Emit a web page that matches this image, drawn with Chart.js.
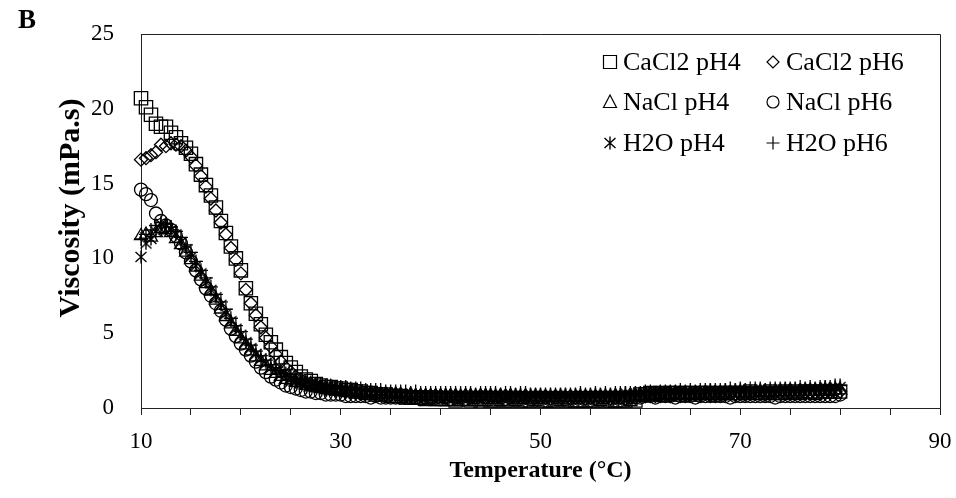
<!DOCTYPE html>
<html>
<head>
<meta charset="utf-8">
<script src="https://cdn.jsdelivr.net/npm/chart.js@4"></script>
<style>
  html, body { margin: 0; padding: 0; background: #fff; }
  #wrap { width: 956px; height: 498px; position: relative; }
</style>
</head>
<body>
<div id="wrap"><canvas id="chart" width="956" height="498"></canvas></div>
<script>
// Temperature (°C) for every reading
const temps = [
  10, 10.5, 11, 11.5, 12, 12.5, 13, 13.5, 14, 14.5,
  15, 15.5, 16, 16.5, 17, 17.5, 18, 18.5, 19, 19.5,
  20, 20.5, 21, 21.5, 22, 22.5, 23, 23.5, 24, 24.5,
  25, 25.5, 26, 26.5, 27, 27.5, 28, 28.5, 29, 29.5,
  30, 30.5, 31, 31.5, 32, 32.5, 33, 33.5, 34, 34.5,
  35, 35.5, 36, 36.5, 37, 37.5, 38, 38.5, 39, 39.5,
  40, 40.5, 41, 41.5, 42, 42.5, 43, 43.5, 44, 44.5,
  45, 45.5, 46, 46.5, 47, 47.5, 48, 48.5, 49, 49.5,
  50, 50.5, 51, 51.5, 52, 52.5, 53, 53.5, 54, 54.5,
  55, 55.5, 56, 56.5, 57, 57.5, 58, 58.5, 59, 59.5,
  60, 60.5, 61, 61.5, 62, 62.5, 63, 63.5, 64, 64.5,
  65, 65.5, 66, 66.5, 67, 67.5, 68, 68.5, 69, 69.5,
  70, 70.5, 71, 71.5, 72, 72.5, 73, 73.5, 74, 74.5,
  75, 75.5, 76, 76.5, 77, 77.5, 78, 78.5, 79, 79.5,
  80
];

// Viscosity (mPa.s)
const cacl2Ph4 = [
  20.7, 20.1, 19.6, 19.0, 18.8, 18.8, 18.4, 18.1, 17.7, 17.4,
  17.0, 16.3, 15.6, 14.9, 14.2, 13.4, 12.5, 11.7, 10.8, 10.0,
  9.2, 8.0, 7.0, 6.3, 5.6, 4.9, 4.4, 3.9, 3.4, 3.0,
  2.7, 2.4, 2.1, 1.9, 1.8, 1.6, 1.5, 1.4, 1.4, 1.3,
  1.3, 1.2, 1.2, 1.1, 1.1, 1.0, 1.0, 0.9, 0.9, 0.9,
  0.8, 0.8, 0.8, 0.7, 0.7, 0.7, 0.7, 0.6, 0.7, 0.6,
  0.6, 0.6, 0.6, 0.5, 0.6, 0.6, 0.5, 0.6, 0.5, 0.6,
  0.5, 0.5, 0.6, 0.5, 0.5, 0.6, 0.5, 0.5, 0.5, 0.6,
  0.5, 0.5, 0.5, 0.5, 0.6, 0.5, 0.5, 0.5, 0.5, 0.5,
  0.5, 0.5, 0.6, 0.5, 0.5, 0.5, 0.5, 0.5, 0.6, 0.5,
  0.9, 0.9, 1.0, 0.9, 1.0, 0.9, 1.0, 1.0, 0.9, 1.0,
  1.0, 0.9, 1.0, 1.0, 1.0, 0.9, 1.0, 1.0, 1.0, 1.0,
  1.0, 1.0, 1.1, 1.0, 1.0, 1.0, 1.1, 1.0, 1.0, 1.1,
  1.0, 1.1, 1.0, 1.1, 1.1, 1.0, 1.1, 1.1, 1.1, 1.1,
  1.1
];
const cacl2Ph6 = [
  16.6, 16.7, 16.9, 17.1, 17.6, 17.5, 17.7, 17.6, 17.5, 17.2,
  16.8, 16.2, 15.5, 14.8, 14.0, 13.2, 12.4, 11.6, 10.7, 9.9,
  9.0, 7.9, 7.0, 6.2, 5.4, 4.7, 4.1, 3.6, 3.1, 2.7,
  2.4, 2.1, 1.9, 1.7, 1.6, 1.5, 1.4, 1.3, 1.3, 1.2,
  1.2, 1.1, 1.1, 1.1, 1.0, 1.0, 1.0, 0.9, 0.9, 0.9,
  0.9, 0.9, 0.8, 0.8, 0.8, 0.8, 0.8, 0.8, 0.7, 0.8,
  0.8, 0.7, 0.8, 0.7, 0.7, 0.8, 0.7, 0.7, 0.8, 0.7,
  0.7, 0.7, 0.7, 0.8, 0.7, 0.7, 0.7, 0.7, 0.7, 0.7,
  0.7, 0.7, 0.6, 0.7, 0.7, 0.7, 0.6, 0.7, 0.7, 0.6,
  0.7, 0.6, 0.7, 0.7, 0.6, 0.7, 0.7, 0.6, 0.7, 0.7,
  0.8, 0.8, 0.9, 0.8, 0.9, 0.9, 0.8, 0.9, 0.9, 0.9,
  0.9, 0.9, 0.9, 1.0, 0.9, 0.9, 1.0, 0.9, 1.0, 0.9,
  1.0, 0.9, 1.0, 1.0, 1.0, 0.9, 1.0, 1.0, 1.0, 1.0,
  1.0, 1.0, 1.0, 1.1, 1.0, 1.0, 1.1, 1.0, 1.1, 1.1,
  1.1
];
const naclPh4 = [
  11.5, 11.6, 11.4, 11.7, 12.0, 11.9, 11.7, 11.3, 10.9, 10.4,
  9.9, 9.4, 8.8, 8.3, 7.8, 7.2, 6.6, 6.1, 5.6, 5.1,
  4.6, 4.2, 3.8, 3.4, 3.1, 2.8, 2.5, 2.3, 2.1, 1.9,
  1.8, 1.7, 1.6, 1.5, 1.4, 1.4, 1.3, 1.3, 1.2, 1.2,
  1.1, 1.1, 1.1, 1.0, 1.0, 1.0, 1.0, 0.9, 0.9, 0.9,
  0.9, 0.9, 0.9, 0.8, 0.9, 0.8, 0.8, 0.8, 0.8, 0.8,
  0.8, 0.8, 0.8, 0.8, 0.7, 0.8, 0.8, 0.7, 0.8, 0.8,
  0.8, 0.7, 0.8, 0.7, 0.8, 0.7, 0.7, 0.8, 0.7, 0.7,
  0.7, 0.7, 0.7, 0.7, 0.7, 0.7, 0.7, 0.7, 0.7, 0.7,
  0.7, 0.7, 0.7, 0.7, 0.7, 0.8, 0.7, 0.7, 0.8, 0.8,
  0.8, 0.8, 0.9, 0.8, 0.9, 0.9, 0.9, 0.9, 0.9, 0.9,
  0.9, 0.9, 1.0, 0.9, 1.0, 1.0, 0.9, 1.0, 1.0, 1.0,
  1.0, 1.0, 1.0, 1.0, 1.1, 1.0, 1.0, 1.1, 1.0, 1.1,
  1.1, 1.0, 1.1, 1.1, 1.1, 1.1, 1.1, 1.2, 1.1, 1.2,
  1.2
];
const naclPh6 = [
  14.6, 14.3, 13.9, 13.0, 12.5, 12.2, 11.9, 11.5, 11.0, 10.4,
  9.8, 9.2, 8.6, 8.0, 7.5, 7.0, 6.5, 5.9, 5.3, 4.8,
  4.3, 3.9, 3.5, 3.1, 2.7, 2.4, 2.1, 1.9, 1.7, 1.5,
  1.4, 1.3, 1.2, 1.1, 1.1, 1.0, 1.0, 0.9, 0.9, 0.9,
  0.9, 0.8, 0.8, 0.8, 0.8, 0.8, 0.7, 0.8, 0.7, 0.7,
  0.7, 0.7, 0.7, 0.7, 0.7, 0.7, 0.6, 0.7, 0.7, 0.7,
  0.7, 0.7, 0.6, 0.7, 0.7, 0.6, 0.7, 0.7, 0.7, 0.7,
  0.7, 0.7, 0.7, 0.6, 0.7, 0.7, 0.7, 0.7, 0.6, 0.7,
  0.7, 0.7, 0.7, 0.7, 0.7, 0.6, 0.7, 0.7, 0.7, 0.7,
  0.7, 0.7, 0.7, 0.7, 0.7, 0.7, 0.7, 0.7, 0.7, 0.7,
  0.7, 0.8, 0.8, 0.7, 0.8, 0.8, 0.8, 0.7, 0.8, 0.8,
  0.8, 0.7, 0.8, 0.8, 0.8, 0.8, 0.8, 0.8, 0.7, 0.8,
  0.8, 0.8, 0.8, 0.8, 0.8, 0.8, 0.8, 0.7, 0.8, 0.8,
  0.8, 0.8, 0.8, 0.8, 0.8, 0.8, 0.8, 0.8, 0.8, 0.8,
  0.9
];
const h2oPh4 = [
  10.1, 11.0, 11.3, 11.8, 12.3, 12.2, 11.9, 11.6, 11.1, 10.6,
  10.1, 9.5, 9.0, 8.4, 7.9, 7.4, 6.9, 6.3, 5.8, 5.3,
  4.9, 4.4, 4.0, 3.6, 3.3, 3.0, 2.7, 2.5, 2.3, 2.1,
  1.9, 1.8, 1.7, 1.6, 1.5, 1.4, 1.4, 1.3, 1.3, 1.2,
  1.2, 1.2, 1.1, 1.1, 1.1, 1.0, 1.0, 1.0, 1.0, 1.0,
  0.9, 1.0, 0.9, 0.9, 0.9, 0.9, 0.9, 0.9, 0.9, 0.9,
  0.9, 0.9, 0.9, 0.9, 0.9, 0.9, 0.9, 0.9, 0.9, 0.9,
  0.9, 0.9, 0.9, 0.8, 0.9, 0.9, 0.9, 0.8, 0.9, 0.9,
  0.9, 0.8, 0.9, 0.8, 0.9, 0.9, 0.8, 0.9, 0.9, 0.8,
  0.9, 0.9, 0.9, 0.9, 0.9, 0.9, 0.9, 1.0, 0.9, 1.0,
  1.0, 1.0, 1.0, 1.0, 1.1, 1.0, 1.1, 1.1, 1.1, 1.1,
  1.1, 1.1, 1.1, 1.1, 1.2, 1.1, 1.1, 1.2, 1.1, 1.2,
  1.2, 1.2, 1.1, 1.2, 1.2, 1.2, 1.2, 1.2, 1.2, 1.3,
  1.2, 1.3, 1.2, 1.3, 1.3, 1.3, 1.3, 1.4, 1.3, 1.4,
  1.4
];
const h2oPh6 = [
  11.3, 11.6, 11.9, 12.2, 12.4, 12.3, 12.1, 11.8, 11.4, 10.9,
  10.4, 9.8, 9.2, 8.7, 8.1, 7.6, 7.1, 6.6, 6.0, 5.5,
  5.1, 4.6, 4.2, 3.8, 3.5, 3.2, 2.9, 2.7, 2.5, 2.3,
  2.1, 2.0, 1.9, 1.8, 1.7, 1.6, 1.6, 1.5, 1.5, 1.4,
  1.4, 1.4, 1.3, 1.3, 1.3, 1.2, 1.2, 1.2, 1.2, 1.1,
  1.1, 1.1, 1.1, 1.1, 1.0, 1.1, 1.0, 1.0, 1.0, 1.0,
  1.0, 1.0, 1.0, 1.0, 1.0, 1.0, 1.0, 0.9, 1.0, 1.0,
  1.0, 1.0, 0.9, 1.0, 1.0, 0.9, 1.0, 1.0, 0.9, 0.9,
  0.9, 0.9, 0.9, 0.9, 0.9, 0.9, 0.9, 0.9, 1.0, 0.9,
  0.9, 1.0, 0.9, 1.0, 0.9, 1.0, 1.0, 1.0, 1.0, 1.0,
  1.0, 1.1, 1.1, 1.0, 1.1, 1.1, 1.1, 1.1, 1.2, 1.1,
  1.2, 1.1, 1.2, 1.2, 1.2, 1.2, 1.2, 1.2, 1.3, 1.2,
  1.3, 1.2, 1.3, 1.3, 1.3, 1.2, 1.3, 1.3, 1.3, 1.3,
  1.3, 1.3, 1.4, 1.3, 1.4, 1.3, 1.4, 1.4, 1.4, 1.5,
  1.5
];

const seriesLabels = ['CaCl2 pH4', 'CaCl2 pH6', 'NaCl pH4', 'NaCl pH6', 'H2O pH4', 'H2O pH6'];
const xTickLabels = [10, 30, 50, 70, 90];
const yTickLabels = [0, 5, 10, 15, 20, 25];

const FONT = "'Liberation Serif', 'Times New Roman', serif";
const INK = '#000';

// 6-armed asterisk marker (X with a vertical stroke), like the Excel marker
function makeAsterisk(size) {
  const c = document.createElement('canvas');
  c.width = size; c.height = size;
  const g = c.getContext('2d');
  g.strokeStyle = INK;
  g.lineWidth = 1.4;
  g.beginPath();
  g.moveTo(size / 2, 0.5); g.lineTo(size / 2, size - 0.5);
  g.moveTo(1.5, 2); g.lineTo(size - 1.5, size - 2);
  g.moveTo(size - 1.5, 2); g.lineTo(1.5, size - 2);
  g.stroke();
  return c;
}
const asterisk = makeAsterisk(14);

const styles = [
  { pointStyle: 'rect', radius: 9.4 },
  { pointStyle: 'rectRot', radius: 6.5 },
  { pointStyle: 'triangle', radius: 7.5 },
  { pointStyle: 'circle', radius: 6.5 },
  { pointStyle: asterisk, radius: 7 },
  { pointStyle: 'cross', radius: 7 }
];
const seriesValues = [cacl2Ph4, cacl2Ph6, naclPh4, naclPh6, h2oPh4, h2oPh6];

const datasets = seriesValues.map((vals, i) => ({
  label: seriesLabels[i],
  data: vals.map((v, j) => ({ x: temps[j], y: v })),
  pointStyle: styles[i].pointStyle,
  pointRadius: styles[i].radius,
  pointHoverRadius: styles[i].radius,
  pointBorderColor: INK,
  pointBackgroundColor: 'rgba(0,0,0,0)',
  pointBorderWidth: 1.3,
  showLine: false,
  clip: false
}));

// frame on top / right, panel letter, y title and the two-column legend
const decorPlugin = {
  id: 'decor',
  afterDraw(chart) {
    const { ctx, chartArea: a } = chart;
    ctx.save();
    ctx.strokeStyle = '#222';
    ctx.lineWidth = 1;
    ctx.beginPath();
    ctx.moveTo(a.left, a.top + 0.5);
    ctx.lineTo(a.right + 0.5, a.top + 0.5);
    ctx.lineTo(a.right + 0.5, a.bottom);
    ctx.stroke();

    ctx.fillStyle = INK;
    ctx.font = "bold 27px " + FONT;
    ctx.textBaseline = 'top';
    ctx.textAlign = 'left';
    ctx.fillText('B', 18, 8);

    // y axis title, centred a little above the plot middle as in the original
    ctx.save();
    ctx.translate(71, 208);
    ctx.rotate(-Math.PI / 2);
    ctx.font = "bold 30px " + FONT;
    ctx.textAlign = 'center';
    ctx.textBaseline = 'middle';
    ctx.fillText('Viscosity (mPa.s)', 0, 0);
    ctx.restore();

    // legend: 2 columns x 3 rows
    const colX = [610, 773];
    const rowY = [62, 102, 143];
    ctx.font = "26px " + FONT;
    ctx.textAlign = 'left';
    ctx.textBaseline = 'middle';
    seriesLabels.forEach((lbl, i) => {
      const cx = colX[i % 2];
      const cy = rowY[Math.floor(i / 2)];
      ctx.strokeStyle = INK;
      ctx.lineWidth = 1.2;
      ctx.beginPath();
      const st = styles[i].pointStyle;
      if (st === 'rect') {
        ctx.rect(cx - 6.5, cy - 6.5, 13, 13);
      } else if (st === 'rectRot') {
        ctx.moveTo(cx, cy - 6); ctx.lineTo(cx + 6, cy);
        ctx.lineTo(cx, cy + 6); ctx.lineTo(cx - 6, cy); ctx.closePath();
      } else if (st === 'triangle') {
        ctx.moveTo(cx, cy - 7); ctx.lineTo(cx + 6.5, cy + 5.5);
        ctx.lineTo(cx - 6.5, cy + 5.5); ctx.closePath();
      } else if (st === 'circle') {
        ctx.arc(cx, cy, 6, 0, Math.PI * 2);
      } else if (st === 'cross') {
        ctx.moveTo(cx, cy - 6.5); ctx.lineTo(cx, cy + 6.5);
        ctx.moveTo(cx - 6.5, cy); ctx.lineTo(cx + 6.5, cy);
      }
      ctx.stroke();
      if (st === asterisk) ctx.drawImage(asterisk, cx - 7, cy - 7);
      ctx.fillText(lbl, cx + 13, cy + 1);
    });
    ctx.restore();
  }
};

new Chart(document.getElementById('chart'), {
  type: 'scatter',
  data: { datasets },
  plugins: [decorPlugin],
  options: {
    responsive: false,
    animation: false,
    events: [],
    layout: { padding: { left: 0, right: 16, top: 34, bottom: 0 } },
    plugins: {
      legend: { display: false },
      tooltip: { enabled: false }
    },
    scales: {
      x: {
        type: 'linear',
        min: 10,
        max: 90,
        afterFit: (s) => { s.height = 90; s.paddingLeft = 0; s.paddingRight = 0; },
        border: { display: true, color: '#222', width: 1 },
        grid: { drawOnChartArea: false, drawTicks: true, tickLength: 7, color: '#222' },
        ticks: {
          stepSize: 5,
          autoSkip: false,
          maxRotation: 0,
          padding: 13,
          color: INK,
          font: { family: FONT, size: 23 },
          callback: (v) => xTickLabels.includes(v) ? String(v) : ''
        },
        title: {
          display: true,
          text: 'Temperature (°C)',
          color: INK,
          font: { family: FONT, size: 24, weight: 'bold' },
          padding: { top: 0, bottom: 13 }
        }
      },
      y: {
        min: 0,
        max: 25,
        afterFit: (s) => { s.width = 141; s.paddingTop = 0; s.paddingBottom = 0; },
        border: { display: true, color: '#222', width: 1 },
        grid: { drawOnChartArea: false, drawTicks: false },
        ticks: {
          stepSize: 5,
          padding: 27,
          color: INK,
          font: { family: FONT, size: 23 },
          callback: (v) => yTickLabels.includes(v) ? String(v) : ''
        },
        title: { display: false }
      }
    }
  }
});
</script>
</body>
</html>
